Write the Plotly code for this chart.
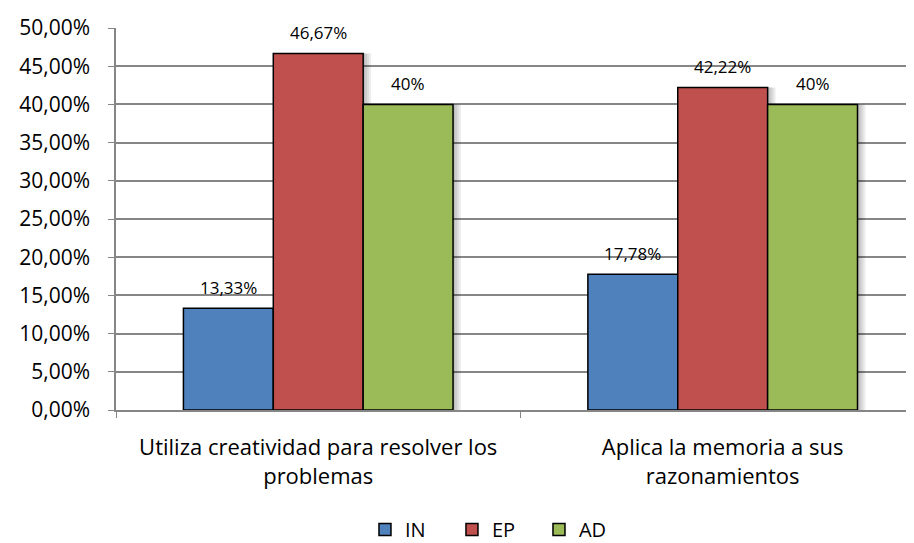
import plotly.graph_objects as go

categories = ["Utiliza creatividad para resolver los<br>problemas",
              "Aplica la memoria a sus<br>razonamientos"]
series_names = ["IN", "EP", "AD"]
values_IN = [13.33, 17.78]
values_EP = [46.67, 42.22]
values_AD = [40.0, 40.0]
labels_IN = ["13,33%", "17,78%"]
labels_EP = ["46,67%", "42,22%"]
labels_AD = ["40%", "40%"]
tick_vals = [0, 5, 10, 15, 20, 25, 30, 35, 40, 45, 50]
tick_text = ["0,00%", "5,00%", "10,00%", "15,00%", "20,00%", "25,00%",
             "30,00%", "35,00%", "40,00%", "45,00%", "50,00%"]

colors = ["#4F81BD", "#C0504D", "#9BBB59"]
FONT = "Open Sans"
BAR_W = 0.2222          # bar width in category units
OFFSETS = [-0.3333, -0.1111, 0.1111]
CAT_PX = 405            # pixels per category
SHADOW_STEPS = [2, 4, 6, 8]  # shadow offsets in px

fig = go.Figure()
all_vals = [values_IN, values_EP, values_AD]
all_labs = [labels_IN, labels_EP, labels_AD]

# soft shadows (drawn first, under the bars)
for si, vals in enumerate(all_vals):
    for s in SHADOW_STEPS:
        fig.add_trace(go.Bar(
            x=categories, y=vals, width=BAR_W, offset=OFFSETS[si] + s / CAT_PX,
            marker=dict(color="rgba(0,0,0,0.07)", line=dict(width=0)),
            showlegend=False, hoverinfo="skip",
        ))

for si, (name, vals, col) in enumerate(zip(series_names, all_vals, colors)):
    fig.add_trace(go.Bar(
        name=name, x=categories, y=vals, width=BAR_W, offset=OFFSETS[si],
        marker=dict(color=col, line=dict(color="#000000", width=1.5)),
    ))

annotations = []
for si, (vals, labs) in enumerate(zip(all_vals, all_labs)):
    for ci, (v, lab) in enumerate(zip(vals, labs)):
        annotations.append(dict(
            x=ci, y=v, xref="x", yref="y", text=lab, showarrow=False,
            xshift=(OFFSETS[si] + BAR_W / 2) * CAT_PX, yshift=21, yanchor="middle",
            font=dict(family=FONT, size=17, color="#000000"),
        ))

# figure sized to fit inside the viewport (page body has an 8px margin)
fig.update_layout(
    width=906, height=535,
    margin=dict(l=108, r=0, t=20, b=133, autoexpand=False),
    paper_bgcolor="white", plot_bgcolor="white",
    barmode="overlay",
    font=dict(family=FONT, color="#000000"),
    legend=dict(orientation="h", x=0.312, xanchor="left", y=-0.313,
                yanchor="middle", font=dict(family=FONT, size=20),
                itemwidth=30, tracegroupgap=0,
                entrywidth=42, entrywidthmode="pixels"),
    showlegend=True,
    annotations=annotations,
)
fig.update_xaxes(
    type="category",
    range=[-0.5, 1.473], showline=True, linecolor="#868686", linewidth=1.5,
    ticks="outside", tickson="boundaries", ticklen=6, tickcolor="#868686",
    tickfont=dict(family=FONT, size=22), ticklabelstandoff=17,
    showgrid=False, automargin=False,
)
fig.update_yaxes(
    range=[0, 50], tickvals=tick_vals, ticktext=tick_text,
    showline=True, linecolor="#868686", linewidth=1.5,
    ticks="outside", ticklen=6, tickcolor="#868686",
    showgrid=True, gridcolor="#868686", gridwidth=1.5,
    tickfont=dict(family=FONT, size=21), ticklabelstandoff=14,
    zeroline=False, automargin=False,
)
fig.write_html("out.html")
